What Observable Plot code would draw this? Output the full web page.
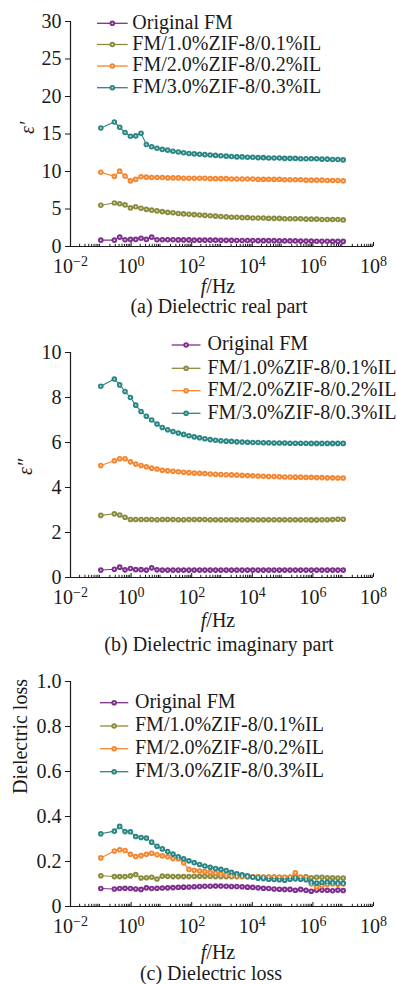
<!DOCTYPE html>
<html>
<head>
<meta charset="utf-8">
<script src="https://cdn.jsdelivr.net/npm/d3@7"></script>
<script src="https://cdn.jsdelivr.net/npm/@observablehq/plot@0.6"></script>
<style>
  body { margin: 0; background: #fff; }
  #root { position: relative; width: 397px; height: 984px; font-family: "Liberation Serif", "Times New Roman", serif; color: #1a1a1a; }
  #root > svg { position: absolute; left: 0; }
</style>
</head>
<body>
<div id="root"></div>
<script>
// ---------------- DATA ----------------
const series = ["Original FM", "FM/1.0%ZIF-8/0.1%IL", "FM/2.0%ZIF-8/0.2%IL", "FM/3.0%ZIF-8/0.3%IL"];
const colors = ["#7e2f8e", "#8b8b3d", "#f5862f", "#2a8585"];

const freq = [0.1, 0.28, 0.42, 0.63, 0.95,
  1.42, 2.13, 3.19, 4.78, 7.16,
  10.7, 16.1, 24.1, 36.1, 54.1,
  80.9, 121, 182, 272, 408,
  611, 916, 1374, 2056, 3083,
  4613, 6918, 10375, 15524, 23280,
  34834, 52240, 78343, 117220, 175790,
  263030, 394460, 591570, 885130, 1327400,
  1986100, 2978600, 4466800, 6683400, 10000000];

const realPurple = [0.85, 0.85, 1.25, 0.9, 0.95, 0.95, 1.1, 0.95, 1.25, 0.9,
  0.9, 0.9, 0.9, 0.88, 0.88, 0.88, 0.85, 0.85, 0.85, 0.85,
  0.85, 0.82, 0.82, 0.82, 0.8, 0.8, 0.8, 0.8, 0.78, 0.78,
  0.78, 0.78, 0.75, 0.75, 0.75, 0.75, 0.72, 0.72, 0.72, 0.7,
  0.7, 0.7, 0.68, 0.68, 0.68];
const realOlive = [5.5, 5.8, 5.7, 5.55, 5.15, 5.3, 5.1, 4.95, 4.85, 4.75,
  4.65, 4.55, 4.5, 4.4, 4.35, 4.3, 4.25, 4.2, 4.15, 4.1,
  4.05, 4.0, 3.95, 3.9, 3.9, 3.85, 3.85, 3.8, 3.8, 3.8,
  3.75, 3.75, 3.75, 3.7, 3.7, 3.7, 3.7, 3.65, 3.65, 3.65,
  3.6, 3.6, 3.6, 3.6, 3.55];
const realOrange = [9.9, 9.35, 10.05, 9.4, 8.75, 8.95, 9.3, 9.25, 9.2, 9.2,
  9.2, 9.15, 9.15, 9.15, 9.1, 9.1, 9.1, 9.1, 9.1, 9.05,
  9.05, 9.05, 9.05, 9.0, 9.0, 9.0, 9.0, 9.0, 8.95, 8.95,
  8.95, 8.95, 8.95, 8.9, 8.9, 8.9, 8.9, 8.85, 8.85, 8.85,
  8.85, 8.8, 8.8, 8.8, 8.75];
const realTeal = [15.8, 16.6, 15.9, 15.2, 14.7, 14.75, 15.1, 13.6, 13.3, 13.1,
  12.95, 12.85, 12.7, 12.6, 12.5, 12.4, 12.35, 12.3, 12.25, 12.2,
  12.15, 12.1, 12.05, 12.0, 11.95, 11.95, 11.9, 11.9, 11.85, 11.85,
  11.8, 11.8, 11.8, 11.75, 11.75, 11.75, 11.7, 11.7, 11.7, 11.7,
  11.65, 11.65, 11.6, 11.6, 11.55];

const imagPurple = [0.33, 0.37, 0.46, 0.34, 0.4, 0.35, 0.35, 0.33, 0.43, 0.34,
  0.33, 0.33, 0.33, 0.33, 0.33, 0.33, 0.33, 0.33, 0.33, 0.33,
  0.33, 0.33, 0.33, 0.33, 0.33, 0.33, 0.33, 0.33, 0.33, 0.33,
  0.33, 0.33, 0.33, 0.33, 0.33, 0.33, 0.33, 0.33, 0.33, 0.33,
  0.33, 0.33, 0.33, 0.33, 0.33];
const imagOlive = [2.76, 2.83, 2.78, 2.68, 2.58, 2.58, 2.58, 2.58, 2.58, 2.57,
  2.58, 2.58, 2.58, 2.57, 2.57, 2.58, 2.58, 2.58, 2.58, 2.57,
  2.57, 2.57, 2.57, 2.57, 2.57, 2.57, 2.57, 2.57, 2.57, 2.57,
  2.57, 2.57, 2.57, 2.57, 2.57, 2.57, 2.57, 2.57, 2.56, 2.56,
  2.57, 2.57, 2.58, 2.59, 2.59];
const imagOrange = [4.98, 5.19, 5.28, 5.28, 5.14, 5.04, 4.98, 4.92, 4.86, 4.82,
  4.77, 4.74, 4.72, 4.7, 4.68, 4.66, 4.64, 4.63, 4.62, 4.6,
  4.59, 4.58, 4.57, 4.56, 4.55, 4.54, 4.53, 4.52, 4.51, 4.5,
  4.49, 4.49, 4.48, 4.47, 4.47, 4.46, 4.46, 4.45, 4.45, 4.44,
  4.44, 4.43, 4.43, 4.42, 4.42];
const imagTeal = [8.5, 8.82, 8.56, 8.27, 8.0, 7.66, 7.38, 7.17, 7.0, 6.82,
  6.67, 6.57, 6.49, 6.42, 6.36, 6.3, 6.25, 6.21, 6.17, 6.13,
  6.1, 6.08, 6.06, 6.05, 6.03, 6.02, 6.01, 6.0, 6.0, 5.99,
  5.99, 5.98, 5.98, 5.98, 5.97, 5.97, 5.97, 5.97, 5.96, 5.96,
  5.96, 5.96, 5.96, 5.96, 5.96];

const lossPurple = [0.08, 0.078, 0.08, 0.081, 0.08, 0.078, 0.076, 0.083, 0.08, 0.081,
  0.082, 0.083, 0.084, 0.085, 0.086, 0.087, 0.088, 0.089, 0.09, 0.09,
  0.091, 0.091, 0.09, 0.089, 0.089, 0.088, 0.086, 0.085, 0.083, 0.081,
  0.08, 0.078, 0.077, 0.076, 0.076, 0.072, 0.076, 0.072, 0.068, 0.073,
  0.073, 0.072, 0.07, 0.073, 0.071];
const lossOlive = [0.137, 0.133, 0.133, 0.133, 0.136, 0.142, 0.127, 0.128, 0.13, 0.122,
  0.135, 0.134, 0.133, 0.133, 0.133, 0.133, 0.134, 0.134, 0.134, 0.134,
  0.133, 0.133, 0.133, 0.133, 0.133, 0.133, 0.132, 0.132, 0.132, 0.131,
  0.131, 0.131, 0.13, 0.13, 0.13, 0.13, 0.13, 0.132, 0.128, 0.13,
  0.13, 0.128, 0.128, 0.127, 0.127];
const lossOrange = [0.216, 0.247, 0.252, 0.249, 0.232, 0.222, 0.226, 0.232, 0.237, 0.23,
  0.225, 0.221, 0.213, 0.212, 0.194, 0.165, 0.161, 0.158, 0.155, 0.152,
  0.148, 0.145, 0.142, 0.139, 0.137, 0.135, 0.133, 0.132, 0.131, 0.13,
  0.13, 0.13, 0.13, 0.129, 0.13, 0.15, 0.13, 0.127, 0.1, 0.087,
  0.093, 0.098, 0.1, 0.099, 0.1];
const lossTeal = [0.323, 0.335, 0.356, 0.333, 0.332, 0.311, 0.307, 0.304, 0.286, 0.268,
  0.256, 0.244, 0.233, 0.221, 0.212, 0.203, 0.195, 0.187, 0.18, 0.174,
  0.169, 0.165, 0.16, 0.152, 0.145, 0.141, 0.136, 0.13, 0.126, 0.124,
  0.121, 0.12, 0.119, 0.117, 0.121, 0.123, 0.121, 0.119, 0.108, 0.104,
  0.107, 0.108, 0.107, 0.105, 0.104];

const xMajorTicks = [1e-2, 1e0, 1e2, 1e4, 1e6, 1e8];
const realTicks = [0, 5, 10, 15, 20, 25, 30];
const imagTicks = [0, 2, 4, 6, 8, 10];
const lossTicks = [0, 0.2, 0.4, 0.6, 0.8, 1.0];
const captions = ["(a) Dielectric real part", "(b) Dielectric imaginary part", "(c) Dielectric loss"];

// ---------------- BUILD ----------------
const NS = "http://www.w3.org/2000/svg";
const root = document.getElementById("root");

function rows(arrs) {
  return arrs.flatMap((vals, si) => vals.map((v, i) => ({f: freq[i], v, s: series[si]})));
}
const minorTicks = d3.range(-2, 8).flatMap(e => d3.range(2, 10).map(m => m * Math.pow(10, e)));

function panel({plotTop, domain, ticks, fmt, data, ylabel, italic, dx, dy, xPad}) {
  const mt = 12, mb = 34, h = 225;
  const svg = Plot.plot({
    width: 397, height: mt + h + mb,
    marginTop: mt, marginBottom: mb, marginLeft: 70, marginRight: 24,
    style: {fontFamily: '"Liberation Serif", "Times New Roman", serif', fontSize: "20px", color: "#1a1a1a", background: "transparent", overflow: "visible"},
    x: {type: "log", domain: [1e-2, 1e8], label: null},
    y: {domain, label: null},
    color: {domain: series, range: colors},
    marks: [
      Plot.ruleX([1e-2], {stroke: "#1a1a1a", strokeWidth: 1.2}),
      Plot.ruleY([domain[0]], {stroke: "#1a1a1a", strokeWidth: 1.2}),
      Plot.axisY({ticks, tickSize: 5, tickPadding: 4, tickFormat: fmt, label: null, fontSize: 20}),
      Plot.axisX({ticks: xMajorTicks, tickSize: -4, tickPadding: xPad, tickFormat: d => String(Math.round(Math.log10(d))), label: null, fontSize: 20}),
      Plot.axisX({ticks: minorTicks, tickSize: -2.2, tickFormat: () => "", label: null}),
      Plot.line(data, {x: "f", y: "v", z: "s", stroke: "s", strokeWidth: 1.1}),
      Plot.dot(data, {x: "f", y: "v", fill: "s", r: 2.8}),
      Plot.dot(data, {x: "f", y: "v", fill: "white", fillOpacity: 0.7, r: 0.9}),
      Plot.text([ylabel], {text: d => d, frameAnchor: "left", rotate: -90, dx, dy, fontSize: 20, fontStyle: italic ? "italic" : "normal"})
    ]
  });
  svg.style.top = (plotTop - mt) + "px";
  // superscript exponents on x tick labels
  svg.querySelectorAll('[aria-label="x-axis tick label"] text').forEach(t => {
    const e = t.textContent;
    if (!e) return;
    t.textContent = "10";
    const ts = document.createElementNS(NS, "tspan");
    ts.setAttribute("dy", "-6.7");
    ts.setAttribute("font-size", "14");
    ts.textContent = e.replace("-", "\u2212");
    t.appendChild(ts);
  });
  root.appendChild(svg);
}

panel({plotTop: 21, domain: [0, 30], ticks: realTicks, fmt: d => String(d), xPad: 16,
  data: rows([realPurple, realOlive, realOrange, realTeal]), ylabel: "ε′", italic: true, dx: -43, dy: 0});
panel({plotTop: 351.7, domain: [0, 10], ticks: imagTicks, fmt: d => String(d), xPad: 16,
  data: rows([imagPurple, imagOlive, imagOrange, imagTeal]), ylabel: "ε″", italic: true, dx: -45, dy: 10});
panel({plotTop: 680.7, domain: [0, 1], ticks: lossTicks, fmt: d => d === 0 ? "0" : d.toFixed(1), xPad: 16,
  data: rows([lossPurple, lossOlive, lossOrange, lossTeal]), ylabel: "Dielectric loss", italic: false, dx: -50, dy: 0});

// ---------------- OVERLAY: axis titles, captions, legends ----------------
const ov = d3.select(root).append("svg")
  .attr("width", 397).attr("height", 984)
  .style("top", "0px")
  .style("font-family", '"Liberation Serif", "Times New Roman", serif')
  .style("font-size", "20px")
  .attr("fill", "#1a1a1a");

const xTitleBase = [292.5, 627, 958.5];
const capBase = [312.5, 651, 979.5];
const capX = [219, 219, 211];
xTitleBase.forEach((yb, i) => {
  const t = ov.append("text").attr("x", 218).attr("y", yb).attr("text-anchor", "middle");
  t.append("tspan").attr("font-style", "italic").text("f");
  t.append("tspan").text("/Hz");
  ov.append("text").attr("x", capX[i]).attr("y", capBase[i]).attr("text-anchor", "middle").text(captions[i]);
});

const legends = [
  {x1: 97, x2: 127.7, tx: 132.3, ys: [23.3, 44.5, 66, 87.7]},
  {x1: 171.7, x2: 200.5, tx: 207.5, ys: [345, 368.3, 390.7, 413.3]},
  {x1: 100, x2: 128.3, tx: 135, ys: [702.7, 726, 748.7, 771.7]}
];
legends.forEach(L => {
  series.forEach((s, i) => {
    const y = L.ys[i], cx = (L.x1 + L.x2) / 2;
    ov.append("line").attr("x1", L.x1).attr("x2", L.x2).attr("y1", y).attr("y2", y)
      .attr("stroke", colors[i]).attr("stroke-width", 1.3);
    ov.append("circle").attr("cx", cx).attr("cy", y).attr("r", 2.8).attr("fill", colors[i]);
    ov.append("circle").attr("cx", cx).attr("cy", y).attr("r", 0.9).attr("fill", "white").attr("fill-opacity", 0.7);
    ov.append("text").attr("x", L.tx).attr("y", y + 5.2).text(s);
  });
});
</script>
</body>
</html>
